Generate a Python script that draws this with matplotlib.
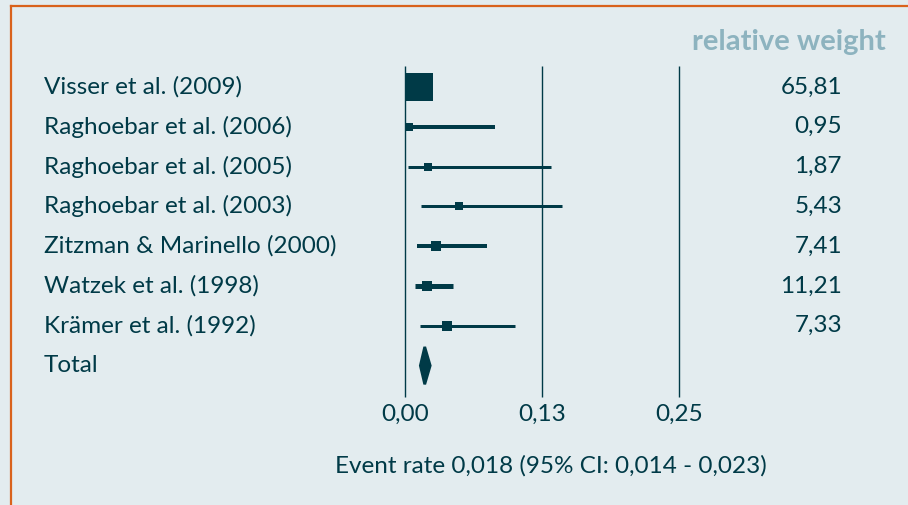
"""Forest plot: implant survival event rates with relative weights."""
import matplotlib.pyplot as plt
from matplotlib.patches import Polygon
from matplotlib.lines import Line2D

studies = ["Visser et al. (2009)", "Raghoebar et al. (2006)", "Raghoebar et al. (2005)",
           "Raghoebar et al. (2003)", "Zitzman & Marinello (2000)", "Watzek et al. (1998)",
           "Krämer et al. (1992)"]
rate = [0.013, 0.004, 0.021, 0.049, 0.028, 0.020, 0.038]
ci_low = [0.006, 0.002, 0.003, 0.015, 0.011, 0.009, 0.014]
ci_high = [0.020, 0.082, 0.133, 0.143, 0.075, 0.044, 0.100]
weights = [65.81, 0.95, 1.87, 5.43, 7.41, 11.21, 7.33]
weight_labels = ["65,81", "0,95", "1,87", "5,43", "7,41", "11,21", "7,33"]
total_rate, total_low, total_high = 0.018, 0.014, 0.023
ticks = [0.0, 0.125, 0.25]
tick_labels = ["0,00", "0,13", "0,25"]

# styling
line_px = [4, 4, 3, 3, 4, 5, 3]
dark = "#003a47"
bg = "#e3ecef"
grey = "#8db3bf"
orange = "#d9621c"
fs = 17.5
plt.rcParams["font.family"] = ["Lato", "DejaVu Sans"]

W, H = 908, 505
fig = plt.figure(figsize=(W / 100, H / 100), dpi=100, facecolor=bg)
ax = fig.add_axes([0, 0, 1, 1])
ax.set_facecolor(bg)
ax.axis("off")

# x: 0 at pixel 405, 1096 px per unit; y: row i at pixel 87 + 39.8 i
x0, sx = 405, 1096
y0, sy = 87, 39.8
ax.set_xlim(-x0 / sx, (W - x0) / sx)
ax.set_ylim((H - y0) / sy, -y0 / sy)

# frame lines (top and left only)
fig.add_artist(Line2D([10.5 / W, 1], [1 - 6 / H, 1 - 6 / H], color=orange, lw=1.6))
fig.add_artist(Line2D([10.5 / W, 10.5 / W], [0, 1 - 6 / H], color=orange, lw=1.6))

for t, lab in zip(ticks, tick_labels):
    ax.plot([t, t], [-0.53, 7.79], color=dark, lw=1.0, solid_capstyle="butt")
    ax.text(t, 8.22, lab, ha="center", va="center", fontsize=fs, color=dark)

for i, (name, r, lo, hi, w, wl, lp) in enumerate(
        zip(studies, rate, ci_low, ci_high, weights, weight_labels, line_px)):
    ax.plot([lo, hi], [i, i], color=dark, lw=lp * 0.72, solid_capstyle="butt")
    size_px = 7 + 0.33 * w
    ax.plot(r, i, marker="s", ms=size_px * 0.72, color=dark, mew=0)
    ax.text(44 / W, i, name, transform=ax.get_yaxis_transform(), ha="left",
            va="center", fontsize=fs, color=dark)
    ax.text(842 / W, i, wl, transform=ax.get_yaxis_transform(), ha="right",
            va="center", fontsize=fs, color=dark)

n = len(studies)
ax.text(44 / W, n, "Total", transform=ax.get_yaxis_transform(), ha="left",
        va="center", fontsize=fs, color=dark)
diamond = Polygon([[total_low, n], [total_rate, n - 0.47], [total_high, n],
                   [total_rate, n + 0.47]], closed=True, facecolor=dark,
                  edgecolor=dark, lw=2)
ax.add_patch(diamond)

ax.text(886 / W, -1.13, "relative weight", transform=ax.get_yaxis_transform(),
        ha="right", va="center", fontsize=21, fontweight="bold", color=grey)
ax.text(551 / W, 9.52,
        f"Event rate {str(total_rate).replace('.', ',')} (95% CI: "
        f"{str(total_low).replace('.', ',')} - {str(total_high).replace('.', ',')})",
        transform=ax.get_yaxis_transform(), ha="center", va="center",
        fontsize=fs, color=dark)

fig.savefig("out.png", dpi=100, facecolor=bg)
